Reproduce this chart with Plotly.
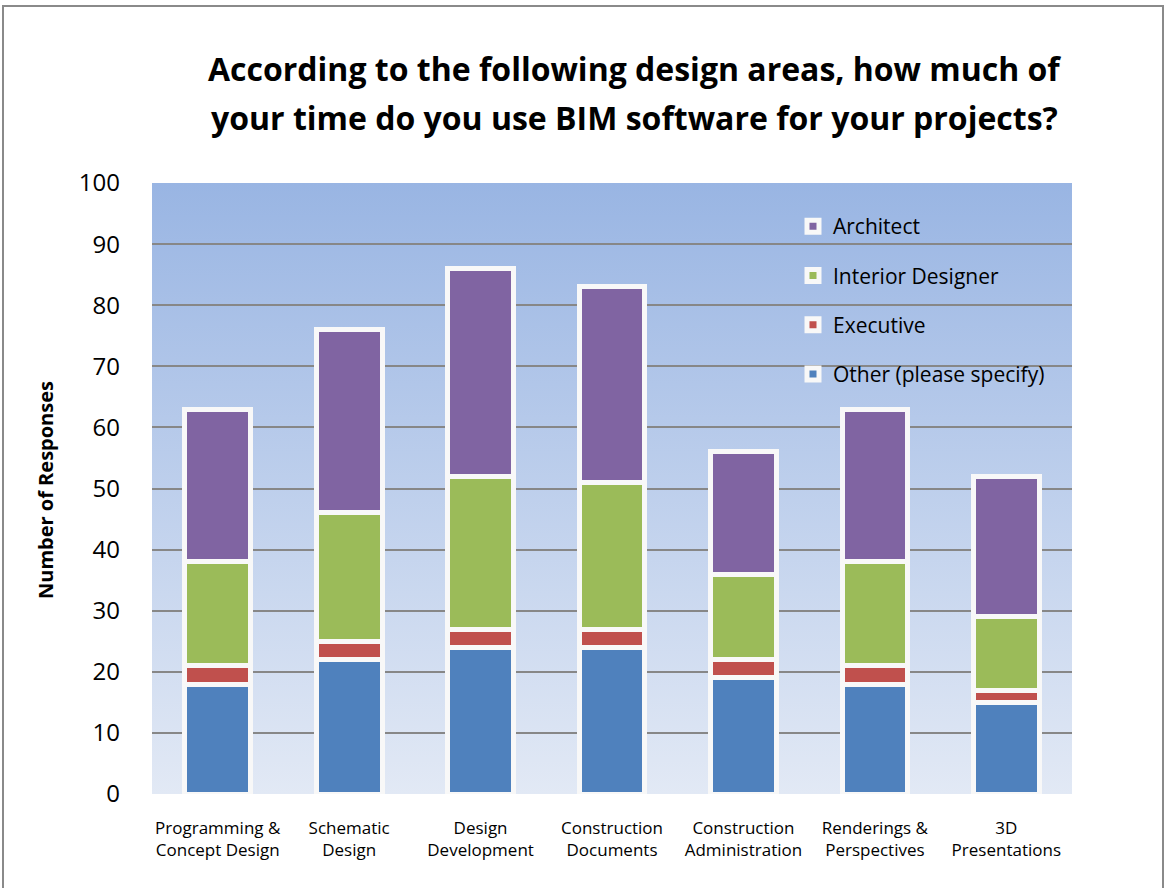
import base64
import plotly.graph_objects as go

# ─── DATA ────────────────────────────────────────────────────────────────────

CATEGORIES = [
    "Programming &<br>Concept Design",
    "Schematic<br>Design",
    "Design<br>Development",
    "Construction<br>Documents",
    "Construction<br>Administration",
    "Renderings &<br>Perspectives",
    "3D<br>Presentations",
]

OTHER = [18, 22, 24, 24, 19, 18, 15]
EXECUTIVE = [3, 3, 3, 3, 3, 3, 2]
INTERIOR = [17, 21, 25, 24, 14, 17, 12]
ARCHITECT = [25, 30, 34, 32, 20, 25, 23]

SERIES = [
    ("Other (please specify)", OTHER, "#4F81BD"),
    ("Executive", EXECUTIVE, "#C0504D"),
    ("Interior Designer", INTERIOR, "#9BBB59"),
    ("Architect", ARCHITECT, "#8064A2"),
]

Y_TICKS = [0, 10, 20, 30, 40, 50, 60, 70, 80, 90, 100]

TITLE_1 = "According to the following design areas, how much of"
TITLE_2 = "your time do you use BIM software for your projects?"

FONT = "'Open Sans', Lato, sans-serif"

# ─── BACKGROUND GRADIENT ─────────────────────────────────────────────────────

svg = (
    '<svg xmlns="http://www.w3.org/2000/svg" width="100" height="100" '
    'preserveAspectRatio="none">'
    '<defs><linearGradient id="g" x1="0" y1="0" x2="0" y2="1">'
    '<stop offset="0" stop-color="#99B5E3"/>'
    '<stop offset="1" stop-color="#E2E9F5"/>'
    '</linearGradient></defs>'
    '<rect width="100" height="100" fill="url(#g)"/></svg>'
)
bg_uri = "data:image/svg+xml;base64," + base64.b64encode(svg.encode()).decode()

# ─── FIGURE ──────────────────────────────────────────────────────────────────

fig = go.Figure()
n = len(SERIES)
for i, (name, vals, color) in enumerate(SERIES):
    fig.add_trace(go.Bar(
        x=CATEGORIES, y=vals, name=name,
        marker=dict(color=color, line=dict(color="#F8F8F8", width=5)),
        legendgroup=name,
        legendrank=n - i,
        cliponaxis=False,
    ))

W, H = 1165, 888
L, R, T, B = 152, 93, 183, 94
pw, ph = W - L - R, H - T - B


def px_x(x):
    return (x - L) / pw


def px_y(y):
    return (H - B - y) / ph


fig.update_layout(
    width=W, height=H,
    barmode="stack",
    bargap=0.5,
    paper_bgcolor="white",
    plot_bgcolor="rgba(0,0,0,0)",
    margin=dict(l=L, r=R, t=T, b=B, autoexpand=False),
    font=dict(family=FONT, color="black"),
    images=[dict(
        source=bg_uri, xref="paper", yref="paper",
        x=0, y=1, sizex=1, sizey=1, sizing="stretch",
        xanchor="left", yanchor="top", layer="below",
    )],
    xaxis=dict(
        showgrid=False, zeroline=False, showline=False,
        tickfont=dict(size=17, family=FONT),
        ticklabelstandoff=22,
    ),
    yaxis=dict(
        range=[0, 100], tickvals=Y_TICKS,
        showgrid=True, gridcolor="#878787", gridwidth=2,
        zeroline=False, showline=False,
        tickfont=dict(size=24, family=FONT),
        ticklabelstandoff=31,
    ),
    legend=dict(
        x=px_x(793), y=px_y(206), xanchor="left", yanchor="top",
        traceorder="grouped", tracegroupgap=19,
        bgcolor="rgba(0,0,0,0)",
        font=dict(size=21, family=FONT),
        itemwidth=30,
    ),
    annotations=[
        dict(text=f"<b>{TITLE_1}</b>", xref="paper", yref="paper",
             x=px_x(634), y=px_y(68), xanchor="center", yanchor="middle",
             showarrow=False, font=dict(size=32, family=FONT)),
        dict(text=f"<b>{TITLE_2}</b>", xref="paper", yref="paper",
             x=px_x(634), y=px_y(118), xanchor="center", yanchor="middle",
             showarrow=False, font=dict(size=32, family=FONT)),
        dict(text="<b>Number of Responses</b>", xref="paper", yref="paper",
             x=px_x(45), y=px_y(490), xanchor="center", yanchor="middle",
             textangle=-90, showarrow=False,
             font=dict(size=20, family=FONT)),
    ],
    shapes=[dict(
        type="rect", xref="paper", yref="paper",
        x0=px_x(3), x1=px_x(1163), y0=px_y(892), y1=px_y(6),
        line=dict(color="#8A8A8A", width=2), layer="below",
    )],
)

fig.write_html(
    "out.html",
    config={"displayModeBar": False},
    post_script="document.body.style.margin = '0';",
)
